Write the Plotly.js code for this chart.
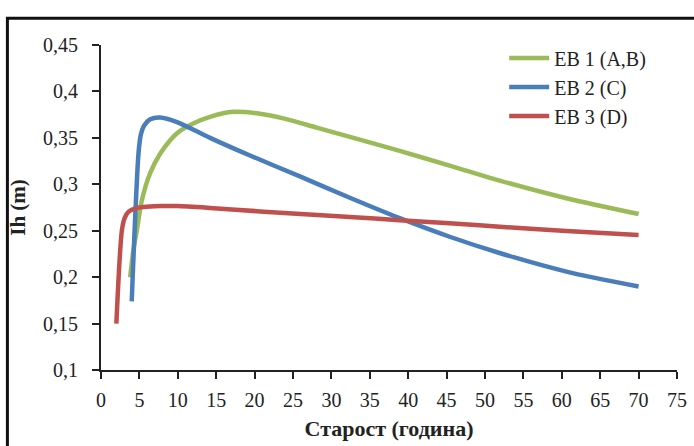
<!DOCTYPE html>
<html>
<head>
<meta charset="utf-8">
<script src="https://cdn.plot.ly/plotly-3.0.1.min.js"></script>
<style>html,body{margin:0;padding:0;background:#fff;}#chart{width:694px;height:446px;}</style>
</head>
<body>
<div id="chart"></div>
<script>
// Series data
const eb1X = [3.8, 4.2, 4.7, 5.3, 6.4, 7.7, 9.9, 12, 14.2, 17.2, 20.7, 23.75, 28.1, 32.4, 38.9, 45.4, 51.9, 60.6, 70];
const eb1Y = [0.200, 0.228, 0.252, 0.282, 0.312, 0.333, 0.355, 0.3655, 0.3726, 0.378, 0.376, 0.371, 0.361, 0.351, 0.336, 0.320, 0.304, 0.285, 0.268];

const eb2X = [4.0, 4.9, 5.2, 5.6, 6.4, 7.7, 9.9, 14.2, 19.4, 25.9, 32.4, 38.9, 45.4, 51.9, 60.6, 70];
const eb2Y = [0.174, 0.335, 0.354, 0.363, 0.370, 0.372, 0.367, 0.350, 0.331, 0.3085, 0.2855, 0.2635, 0.2435, 0.226, 0.206, 0.190];

const eb3X = [2.0, 2.73, 3.1, 3.6, 4.5, 5.5, 7.7, 9.9, 14.2, 20.7, 26, 32.4, 38.9, 45.4, 51.9, 60.6, 70];
const eb3Y = [0.150, 0.251, 0.264, 0.2705, 0.274, 0.2755, 0.2765, 0.2765, 0.2745, 0.2708, 0.268, 0.2647, 0.2614, 0.258, 0.2543, 0.2497, 0.2455];

const seriesNames = ['EB 1 (A,B)', 'EB 2 (C)', 'EB 3 (D)'];
const seriesColors = ['#9BBB59', '#4A7EBB', '#C0504D'];

const yTickVals = [0.1, 0.15, 0.2, 0.25, 0.3, 0.35, 0.4, 0.45];
const yTickText = ['0,1', '0,15', '0,2', '0,25', '0,3', '0,35', '0,4', '0,45'];
const xTickVals = [0, 5, 10, 15, 20, 25, 30, 35, 40, 45, 50, 55, 60, 65, 70, 75];

const xTitle = 'Старост (година)';
const yTitle = 'Ih (m)';

const xs = [eb1X, eb2X, eb3X];
const ys = [eb1Y, eb2Y, eb3Y];

const traces = xs.map((x, i) => ({
  x: x, y: ys[i], name: seriesNames[i], type: 'scatter', mode: 'lines',
  line: {color: seriesColors[i], width: 4.5, shape: 'spline', smoothing: 0.8}
}));

const fam = 'Liberation Serif, Times New Roman, serif';
const font = {family: fam, color: '#222', size: 20};

const layout = {
  width: 694, height: 446,
  margin: {l: 101, r: 17, t: 45, b: 76, pad: 0},
  paper_bgcolor: '#fff', plot_bgcolor: '#fff',
  font: font,
  showlegend: true,
  legend: {x: 0.70, y: 1.02, xanchor: 'left', yanchor: 'top', bgcolor: 'rgba(0,0,0,0)',
           font: {family: fam, size: 20, color: '#222'}, tracegroupgap: 0, itemwidth: 40},
  xaxis: {
    range: [0, 75], tickvals: xTickVals, ticks: 'outside', ticklen: 7, tickwidth: 2, tickcolor: '#222',
    showline: true, linecolor: '#222', linewidth: 2, showgrid: false, zeroline: false,
    tickfont: {family: fam, size: 20}, ticklabelstandoff: 4,
    title: {text: '<b>' + xTitle + '</b>', font: {family: fam, size: 22}, standoff: 11}
  },
  yaxis: {
    range: [0.1, 0.45], tickvals: yTickVals, ticktext: yTickText, ticks: 'outside', ticklen: 7, tickwidth: 2, tickcolor: '#222',
    showline: true, linecolor: '#222', linewidth: 2, showgrid: false, zeroline: false,
    tickfont: {family: fam, size: 20}, ticklabelstandoff: 10,
    title: {text: '<b>' + yTitle + '</b>', font: {family: fam, size: 21}, standoff: 12}
  },
  shapes: [{type: 'rect', xref: 'paper', yref: 'paper', x0: -0.1625, x1: 1.25, y0: -0.3, y1: 1.0826,
            line: {color: '#111', width: 3}, fillcolor: 'rgba(0,0,0,0)'}]
};

Plotly.newPlot('chart', traces, layout, {displayModeBar: false, staticPlot: true});
</script>
</body>
</html>
